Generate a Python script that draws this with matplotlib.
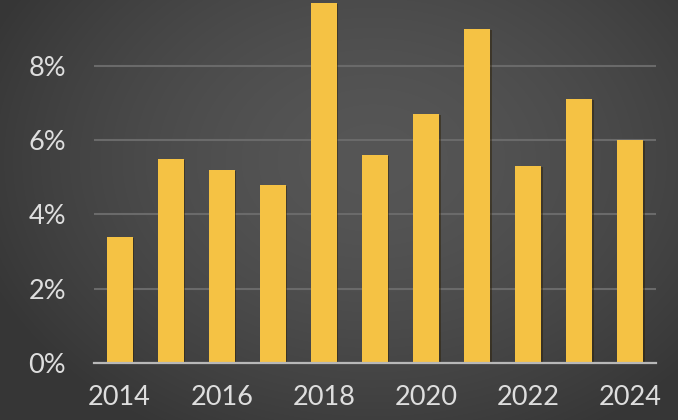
import matplotlib
matplotlib.use("Agg")
import matplotlib.pyplot as plt
import matplotlib.patheffects as pe
import numpy as np
from matplotlib.ticker import FuncFormatter

years = [2014, 2015, 2016, 2017, 2018, 2019, 2020, 2021, 2022, 2023, 2024]
growth_pct = [3.4, 5.5, 5.2, 4.8, 9.7, 5.6, 6.7, 9.0, 5.3, 7.1, 6.0]
y_ticks = [0, 2, 4, 6, 8]
x_label_years = [2014, 2016, 2018, 2020, 2022, 2024]

W, H = 678, 420
fig = plt.figure(figsize=(W / 100, H / 100), dpi=100)

# radial gradient background
bg = fig.add_axes([0, 0, 1, 1], zorder=-10)
yy, xx = np.mgrid[0:H, 0:W]
cx, cy = 0.55 * W, 0.38 * H
r = np.sqrt(((xx - cx) / (0.62 * W)) ** 2 + ((yy - cy) / (0.75 * H)) ** 2)
r = np.clip(r, 0, 1)
light, dark = 0x56 / 255, 0x36 / 255
val = light + (dark - light) * r ** 1.6
img = np.dstack([val, val, val])
bg.imshow(img, aspect="auto", extent=[0, 1, 0, 1], origin="upper")
bg.set_axis_off()

ax = fig.add_axes([94 / W, (H - 363) / H, (656 - 94) / W, 363 / H])
ax.patch.set_alpha(0)

x = np.arange(len(years))
bars = ax.bar(x, growth_pct, width=0.51, color="#F5C244", zorder=3)
for b in bars:
    b.set_path_effects([pe.SimplePatchShadow(offset=(1.0, -0.8), shadow_rgbFace="#2a1c00", alpha=0.45),
                        pe.Normal()])

ax.set_xlim(-0.5, len(years) - 0.5)
ax.set_ylim(0, 363 / 37.15)

ax.set_yticks(y_ticks)
ax.yaxis.set_major_formatter(FuncFormatter(lambda v, p: f"{v:.0f}%"))
ax.set_xticks([years.index(yr) for yr in x_label_years])
ax.set_xticklabels([str(yr) for yr in x_label_years])

ax.grid(axis="y", color="#6a6a6a", linewidth=1.5, zorder=0)
for s in ["top", "right", "left"]:
    ax.spines[s].set_visible(False)
ax.spines["bottom"].set_color("#b8b8b8")
ax.spines["bottom"].set_linewidth(1.6)
ax.spines["bottom"].set_zorder(4)

ax.tick_params(axis="both", length=0, colors="#dcdcdc", labelsize=19.5)
ax.tick_params(axis="y", pad=20)
ax.tick_params(axis="x", pad=16)
for lab in ax.get_xticklabels() + ax.get_yticklabels():
    lab.set_family(["Lato", "DejaVu Sans"])
    lab.set_color("#dedede")

fig.savefig("out.png", dpi=100)
